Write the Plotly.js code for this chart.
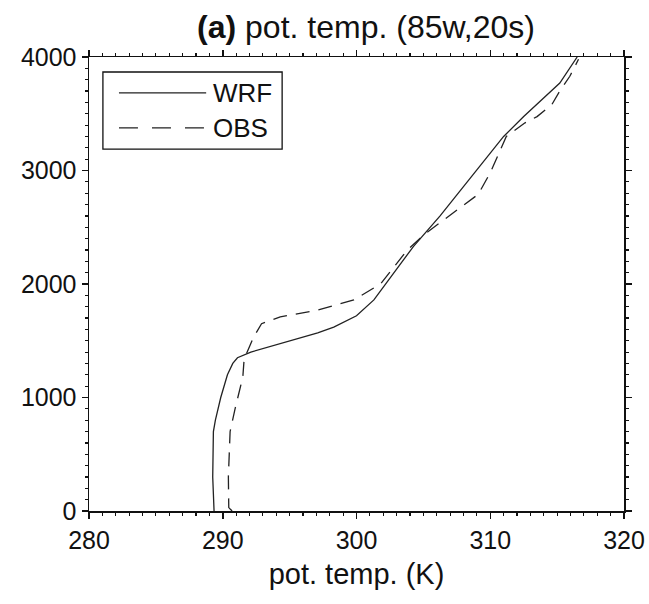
<!DOCTYPE html>
<html>
<head>
<meta charset="utf-8">
<script src="https://cdn.plot.ly/plotly-3.0.1.min.js"></script>
<style>html,body{margin:0;padding:0;background:#fff}#chart{width:649px;height:604px}</style>
</head>
<body>
<div id="chart"></div>
<script>
// WRF profile: height (m) and potential temperature (K)
const wrfHeight = [0, 300, 700, 800, 1000, 1200, 1300, 1350, 1400, 1470, 1570, 1620, 1720, 1860, 2050, 2330, 2600, 2930, 3300, 3475, 3770, 4000];
const wrfTheta  = [289.35, 289.25, 289.3, 289.45, 289.85, 290.35, 290.75, 291.1, 292.1, 294.1, 297.1, 298.3, 300.0, 301.3, 302.5, 304.25, 306.25, 308.5, 311.0, 312.5, 315.2, 316.5];
// OBS profile
const obsHeight = [0, 30, 300, 700, 900, 1070, 1180, 1340, 1530, 1650, 1710, 1770, 1860, 2000, 2200, 2300, 2440, 2600, 2790, 2980, 3240, 3300, 3420, 3475, 3580, 3700, 3830, 3980];
const obsTheta  = [290.7, 290.45, 290.42, 290.55, 290.92, 291.3, 291.5, 291.6, 292.3, 292.9, 294.3, 297.1, 299.8, 301.8, 303.1, 303.8, 305.1, 306.9, 309.1, 310.0, 311.0, 311.2, 312.6, 313.5, 314.6, 315.2, 315.95, 316.6];
const seriesNames = ['WRF', 'OBS'];
const xTicks = [280, 290, 300, 310, 320];
const yTicks = [0, 1000, 2000, 3000, 4000];

const FONT = 'Liberation Sans, Arial, Helvetica, sans-serif';
const lineColor = '#222';

const traces = [
  {x: wrfTheta, y: wrfHeight, mode: 'lines', name: seriesNames[0],
   line: {color: lineColor, width: 1.3}},
  {x: obsTheta, y: obsHeight, mode: 'lines', name: seriesNames[1],
   line: {color: lineColor, width: 1.3, dash: '14px,9px'}}
];

// custom legend (styling only)
const lx0 = 0.056, lx1 = 0.219, ly = [0.921, 0.844];
const shapes = [
  {type: 'rect', xref: 'paper', yref: 'paper', x0: 0.026, x1: 0.361, y0: 0.797, y1: 0.967,
   line: {color: '#111', width: 1.3}, fillcolor: 'rgba(0,0,0,0)'},
  {type: 'line', xref: 'paper', yref: 'paper', x0: lx0, x1: lx1, y0: ly[0], y1: ly[0],
   line: {color: lineColor, width: 1.3}},
  {type: 'line', xref: 'paper', yref: 'paper', x0: lx0, x1: lx1, y0: ly[1], y1: ly[1],
   line: {color: lineColor, width: 1.3, dash: '19px,14px'}}
];
const annotations = seriesNames.map((n, i) => ({
  xref: 'paper', yref: 'paper', x: 0.228, y: ly[i], xanchor: 'left', yanchor: 'middle',
  text: n, showarrow: false, font: {family: FONT, size: 26, color: '#111'}
}));

const axisCommon = {
  showgrid: false, zeroline: false, showline: true, linecolor: '#111', linewidth: 1.5,
  mirror: 'ticks', ticks: 'outside', ticklen: 6, tickwidth: 1.5, tickcolor: '#111',
  tickfont: {family: FONT, size: 25, color: '#111'}
};

const layout = {
  width: 649, height: 604,
  margin: {l: 89, r: 25, t: 57, b: 93},
  paper_bgcolor: '#fff', plot_bgcolor: '#fff',
  showlegend: false,
  title: {text: '<b>(a)</b> pot. temp. (85w,20s)', font: {family: FONT, size: 32, color: '#111'},
          x: 0.564, xref: 'container', xanchor: 'center', y: 0.955, yref: 'container', yanchor: 'middle'},
  xaxis: Object.assign({}, axisCommon, {
    range: [280, 320], tickvals: xTicks, ticktext: xTicks.map(String),
    minor: {dtick: 1, ticks: 'outside', ticklen: 3, tickwidth: 1.2, tickcolor: '#111'},
    title: {text: 'pot. temp. (K)', font: {family: FONT, size: 29, color: '#111'}, standoff: 11}
  }),
  yaxis: Object.assign({}, axisCommon, {
    range: [0, 4000], tickvals: yTicks, ticktext: yTicks.map(String),
    minor: {dtick: 100, ticks: 'outside', ticklen: 3, tickwidth: 1.2, tickcolor: '#111'}
  }),
  shapes: shapes,
  annotations: annotations
};

Plotly.newPlot('chart', traces, layout, {displayModeBar: false, staticPlot: true});
</script>
</body>
</html>
